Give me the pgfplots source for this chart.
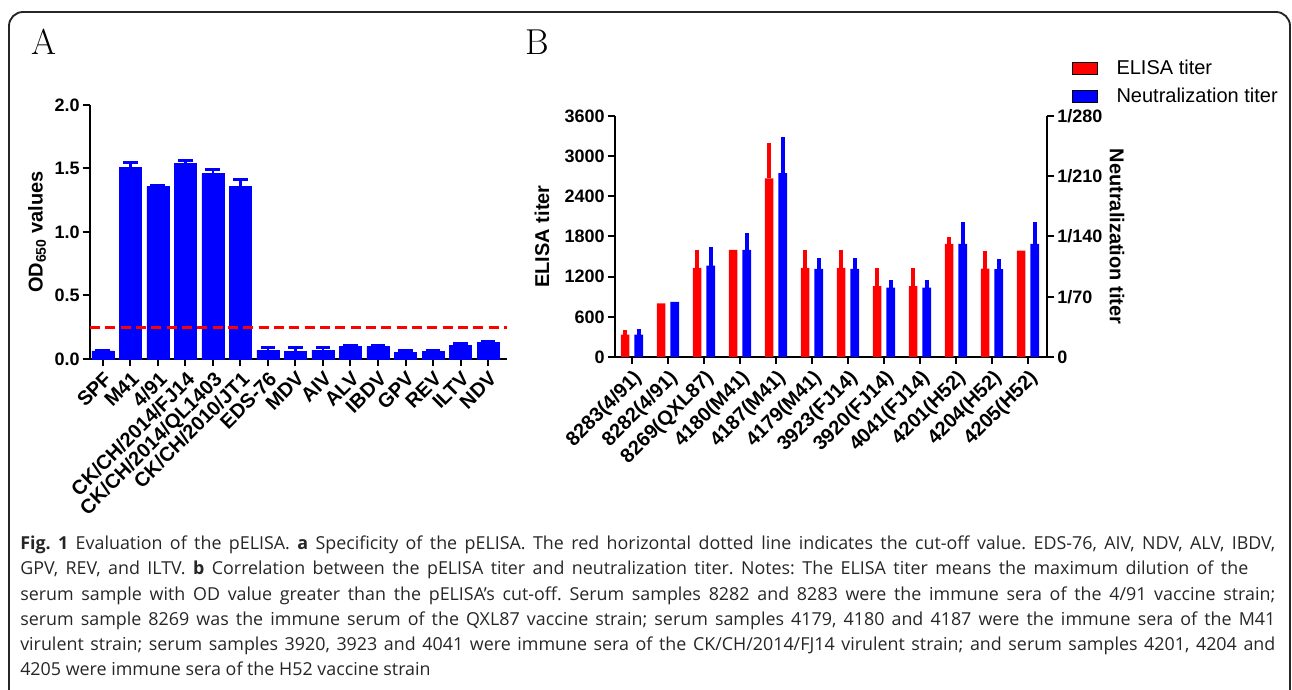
\documentclass[border=0pt]{standalone}
\usepackage{pgfplots}
\usepackage{pgfplotstable}
\pgfplotsset{compat=1.18}
\usepackage{fontspec}
\setmainfont{Liberation Sans}
\newfontfamily\capfont{Open Sans}
\newfontfamily\lettfont{Latin Modern Roman}

\pgfplotstableread{
x y e
0 0.063 0.005
1 1.51 0.04
2 1.36 0.01
3 1.54 0.02
4 1.46 0.03
5 1.36 0.05
6 0.07 0.02
7 0.06 0.03
8 0.07 0.02
9 0.10 0.01
10 0.10 0.005
11 0.055 0.015
12 0.06 0.01
13 0.11 0.01
14 0.13 0.01
}\tableA

\pgfplotstableread{
x e ee n ne
0 333 67 333 84
1 800 0 824 0
2 1333 267 1366 278
3 1600 0 1600 247
4 2667 533 2746 547
5 1333 267 1316 164
6 1333 267 1316 164
7 1060 270 1035 115
8 1060 270 1035 115
9 1690 105 1690 330
10 1320 270 1311 160
11 1590 0 1690 330
}\tableB

\begin{document}
\frenchspacing
\begin{tikzpicture}[x=0.75pt,y=0.75pt]
\useasboundingbox (0,0) rectangle (1292,689);
% frame
\draw[line width=1.4pt, black!85] (9,-5) -- (9,663) arc[start angle=180,end angle=90,radius=14] -- (1276,677) arc[start angle=90,end angle=0,radius=14] -- (1290,-5);
% panel letters
\node[anchor=base west, inner sep=0, font=\lettfont\fontsize{27}{27}\selectfont] at (31,634) {A};
\node[anchor=base west, inner sep=0, font=\lettfont\fontsize{27}{27}\selectfont] at (525,634) {B};

\coordinate (pa) at (90,330);
\coordinate (pb) at (615,332);

% ---------------- Panel A
\begin{axis}[
  at={(pa)}, anchor=south west,
  scale only axis, width=312.75pt, height=190.5pt,
  xmin=-0.47, xmax=14.69, ymin=0, ymax=2,
  axis x line*=bottom, axis y line*=left,
  axis line style={line width=1.6pt, black},
  every tick/.style={black, line width=1.5pt},
  major tick length=5.6pt,
  tick align=outside,
  xtick={0,...,14},
  xticklabels={SPF,M41,4/91,CK/CH/2014/FJ14,CK/CH/2014/QL1403,CK/CH/2010/JT1,EDS-76,MDV,AIV,ALV,IBDV,GPV,REV,ILTV,NDV},
  x tick label style={rotate=45, anchor=north east, font=\bfseries\fontsize{15}{17}\selectfont, inner sep=2pt},
  ytick={0,0.5,1,1.5,2},
  yticklabels={0.0,0.5,1.0,1.5,2.0},
  y tick label style={font=\bfseries\fontsize{13.5}{15}\selectfont, inner sep=2pt},
  ylabel={OD\textsubscript{650} values},
  ylabel style={font=\bfseries\fontsize{15}{18}\selectfont, at={(axis description cs:-0.127,0.5)}, anchor=center},
  clip=false,
]
\addplot[ybar, bar width=0.8, fill=blue, draw=blue,
  error bars/.cd, y dir=plus, y explicit,
  error bar style={line width=1.6pt, blue},
  error mark options={rotate=90, blue, line width=2.2pt, mark size=5.6pt}]
  table[x=x, y=y, y error=e] {\tableA};
\addplot[sharp plot, red, line width=2pt, dash pattern=on 7.5pt off 4pt] coordinates {(-0.47,0.25) (14.69,0.25)};
\end{axis}

% ---------------- Panel B (left axis)
\begin{axis}[
  at={(pb)}, anchor=south west,
  scale only axis, width=324pt, height=180.75pt,
  xmin=-0.47, xmax=11.53, ymin=0, ymax=3600,
  axis x line*=bottom, axis y line*=left,
  axis line style={line width=1.6pt, black},
  every tick/.style={black, line width=1.5pt},
  major tick length=5.6pt,
  tick align=outside,
  xtick={0,...,11},
  xticklabels={8283(4/91),8282(4/91),8269(QXL87),4180(M41),4187(M41),4179(M41),3923(FJ14),3920(FJ14),4041(FJ14),4201(H52),4204(H52),4205(H52)},
  x tick label style={rotate=45, anchor=north east, font=\bfseries\fontsize{15}{17}\selectfont, inner sep=2pt},
  ytick={0,600,1200,1800,2400,3000,3600},
  yticklabels={0,600,1200,1800,2400,3000,3600},
  y tick label style={font=\bfseries\fontsize{13.5}{15}\selectfont, inner sep=2pt},
  ylabel={ELISA titer},
  ylabel style={font=\bfseries\fontsize{15}{18}\selectfont, at={(axis description cs:-0.169,0.5)}, anchor=center},
  error bars/error bar style={line width=3pt},
  error bars/error mark=none,
  legend image code/.code={\fill[#1] (0pt,-4.5pt) rectangle (18.75pt,4.5pt); \path (30.75pt,0pt);},
  legend style={at={(axis description cs:1.058,1.245)}, anchor=north west, draw=none, fill=none,
     font=\fontsize{15}{18}\selectfont, row sep=4.5pt, inner sep=0pt},
  legend cell align=left,
  clip=false,
]
\addplot[ybar, bar width=0.24, bar shift=0pt, fill=red, draw=none, forget plot,
  error bars/.cd, y dir=plus, y explicit, error bar style={red}]
  table[x expr=\thisrow{x}-0.19, y=e, y error=ee] {\tableB};
\addplot[ybar, bar width=0.24, bar shift=0pt, fill=blue, draw=none, forget plot,
  error bars/.cd, y dir=plus, y explicit, error bar style={blue}]
  table[x expr=\thisrow{x}+0.19, y=n, y error=ne] {\tableB};
\addlegendimage{fill=red}
\addlegendentry{ELISA titer}
\addlegendimage{fill=blue}
\addlegendentry{Neutralization titer}
\end{axis}

% ---------------- Panel B (right axis)
\begin{axis}[
  at={(pb)}, anchor=south west,
  scale only axis, width=324pt, height=180.75pt,
  xmin=-0.47, xmax=11.53, ymin=0, ymax=280,
  axis y line*=right, axis x line=none,
  axis line style={line width=1.6pt, black},
  every tick/.style={black, line width=1.5pt},
  major tick length=5.6pt,
  tick align=outside,
  ytick={0,70,140,210,280},
  yticklabels={0,1/70,1/140,1/210,1/280},
  y tick label style={font=\bfseries\fontsize{13.5}{15}\selectfont, inner sep=2pt},
  ylabel={Neutralization titer},
  ylabel style={font=\bfseries\fontsize{15}{18}\selectfont, at={(axis description cs:1.162,0.5)}, anchor=center, rotate=180},
]
\addplot[draw=none] coordinates {(0,0)};
\end{axis}

% ---------------- caption
\begin{scope}[every node/.style={anchor=base west, inner sep=0, text=black!85, font=\capfont\fontsize{13.4}{15}\selectfont}]
\node at (20,139) {\makebox[941.25pt][s]{\textbf{Fig. 1} Evaluation of the pELISA. \textbf{a} Specificity of the pELISA. The red horizontal dotted line indicates the cut-off value. EDS-76, AIV, NDV, ALV, IBDV,}};
\node at (20,114) {\makebox[921pt][s]{GPV, REV, and ILTV. \textbf{b} Correlation between the pELISA titer and neutralization titer. Notes: The ELISA titer means the maximum dilution of the}};
\node at (20,89) {\makebox[941.25pt][s]{serum sample with OD value greater than the pELISA’s cut-off. Serum samples 8282 and 8283 were the immune sera of the 4/91 vaccine strain;}};
\node at (20,64) {\makebox[941.25pt][s]{serum sample 8269 was the immune serum of the QXL87 vaccine strain; serum samples 4179, 4180 and 4187 were the immune sera of the M41}};
\node at (20,39) {\makebox[941.25pt][s]{virulent strain; serum samples 3920, 3923 and 4041 were immune sera of the CK/CH/2014/FJ14 virulent strain; and serum samples 4201, 4204 and}};
\node at (20,14) {4205 were immune sera of the H52 vaccine strain};
\end{scope}
\end{tikzpicture}
\end{document}
